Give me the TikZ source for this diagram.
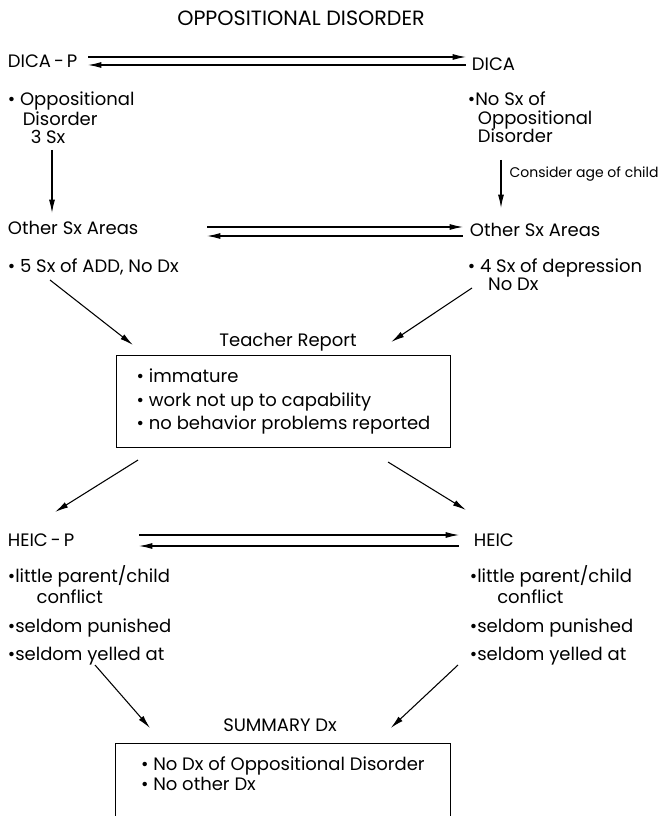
\documentclass[tikz,border=0pt]{standalone}
\usepackage{fontspec}
\setmainfont{Poppins}
\usetikzlibrary{positioning, calc, arrows.meta}

\begin{document}
\begin{tikzpicture}[x=0.75pt, y=-0.75pt, >={Latex[length=10pt, width=4.5pt]}, line width=0.8pt]
        % Define text and box styles
        \tikzstyle{txt} = [inner sep=1pt, anchor=west, font=\fontsize{13.5}{13.75}\selectfont]
        \tikzstyle{list} = [txt, anchor=north west, align=left]
        \tikzstyle{head} = [inner sep=1pt, font=\fontsize{13.5}{14}\selectfont]
        \tikzstyle{report} = [draw, rectangle, anchor=north west, align=left, inner xsep=0pt, inner ysep=10pt, font=\fontsize{13.5}{17.6}\selectfont]
        \tikzstyle{note} = [inner sep=6pt, font=\fontsize{10.5}{12}\selectfont]

        \useasboundingbox (0,0) rectangle (658,816);

        % Place nodes
        \node[head, font=\fontsize{15.5}{16}\selectfont] (title) at (301,18) {OPPOSITIONAL DISORDER};
        \node[txt] (dicap) at (6,61) {DICA\,-\,P};
        \node[txt] (dica) at (470,64) {DICA};
        \node[list] (lsx) at (6,90) {\textbullet\ Oppositional\\\phantom{\textbullet\ }\hspace{2pt}Disorder\\\phantom{\textbullet\ }\hspace{8pt}3 Sx};
        \node[list, font=\fontsize{13.5}{13.9}\selectfont] (rsx) at (466,90) {\textbullet No Sx of\\\phantom{\textbullet}\hspace{2pt}Oppositional\\\phantom{\textbullet}\hspace{2pt}Disorder};
        \node[txt] (lother) at (6,228) {Other Sx Areas};
        \node[txt] (rother) at (468,230) {Other Sx Areas};
        \node[txt] (lfind) at (6,267) {\textbullet\ 5 Sx of ADD, No Dx};
        \node[list] (rfind) at (466,257) {\textbullet\ 4 Sx of depression\\\phantom{\textbullet\ }\hspace{6pt}No Dx};
        \node[head] (tlabel) at (288,342) {Teacher Report};
        \node[report, minimum width=250.5pt] (tbox) at (116,355) {\textbullet\ immature\\\textbullet\ work not up to capability\\\textbullet\ no behavior problems reported};
        \node[txt] (heicp) at (6,540) {HEIC\,-\,P};
        \node[txt] (heic) at (472,540) {HEIC};
        \node[list, font=\fontsize{13.5}{15.75}\selectfont] (lhist) at (6,564) {\textbullet little parent/child\\\phantom{\textbullet}\hspace{16pt}conflict\\[5.6pt]\textbullet seldom punished\\[5.6pt]\textbullet seldom yelled at};
        \node[list, font=\fontsize{13.5}{15.75}\selectfont] (rhist) at (468,564) {\textbullet little parent/child\\\phantom{\textbullet}\hspace{15pt}conflict\\[5.6pt]\textbullet seldom punished\\[5.6pt]\textbullet seldom yelled at};
        \node[head] (slabel) at (280,725) {SUMMARY Dx};
        \node[report, minimum width=251pt, font=\fontsize{13.5}{15}\selectfont] (sbox) at (115,743) {\textbullet\ No Dx of Oppositional Disorder\\\textbullet\ No other Dx\\[10pt]\mbox{}};

        % Draw connections as arrows
        \draw[->] ($(dicap.west)+(82,-4)$) -- ($(dica.west)+(-4,-7)$);
        \draw[<-] ($(dicap.west)+(82,4)$) -- ($(dica.west)+(-4,1)$);
        \draw[->] ($(lsx.north west)+(46,60)$) -- ($(lother.west)+(46,-15)$);
        \draw[->] ($(rsx.north west)+(35,70)$) -- ($(rother.west)+(33,-22)$) node[note, pos=0.3, right] {Consider age of child};
        \draw[->] ($(lother.west)+(201,-1)$) -- ($(rother.west)+(-5,-3)$);
        \draw[<-] ($(lother.west)+(201,8)$) -- ($(rother.west)+(-5,6)$);
        \draw[->] ($(lfind.west)+(44,13)$) -- ($(tbox.north west)+(17,-10)$);
        \draw[->] ($(rfind.north west)+(6,31)$) -- ($(tbox.north east)+(-60,-13)$);
        \draw[->] ($(tbox.south west)+(22,12)$) -- ($(heicp.west)+(49,-28)$);
        \draw[->] ($(tbox.south east)+(-63,14)$) -- ($(heic.west)+(-6,-30)$);
        \draw[->] ($(heicp.west)+(133,-5)$) -- ($(heic.west)+(-13,-5)$);
        \draw[<-] ($(heicp.west)+(133,6)$) -- ($(heic.west)+(-13,6)$);
        \draw[->] ($(lhist.north west)+(89,101)$) -- ($(sbox.north west)+(35,-15)$);
        \draw[->] ($(rhist.north west)+(-10,101)$) -- ($(sbox.north east)+(-60,-15)$);
\end{tikzpicture}
\end{document}
